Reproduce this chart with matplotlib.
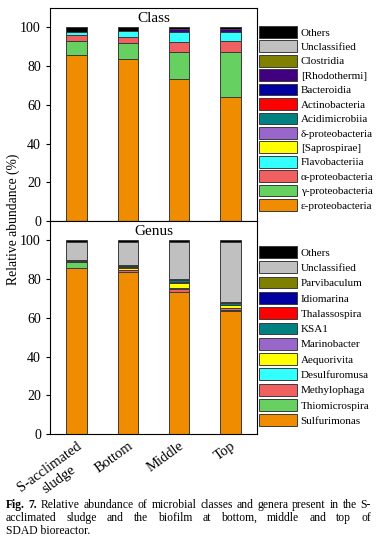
import numpy as np
import matplotlib
matplotlib.use('Agg')
from matplotlib import pyplot as plt
from matplotlib.patches import Patch

plt.rcParams['font.family'] = ['Liberation Serif', 'DejaVu Serif']

samples = ['S-acclimated\nsludge', 'Bottom', 'Middle', 'Top']

# class level (%), bottom to top of stack
class_names = ['ε-proteobacteria', 'γ-proteobacteria', 'α-proteobacteria', 'Flavobacteriia',
               '[Saprospirae]', 'δ-proteobacteria', 'Acidimicrobiia', 'Actinobacteria',
               'Bacteroidia', '[Rhodothermi]', 'Clostridia', 'Unclassified', 'Others']
eps_prot = [85.5, 83.6, 73.2, 63.8]
gam_prot = [7.7, 8.2, 14.0, 23.5]
alp_prot = [2.9, 3.1, 5.0, 5.8]
flavo = [1.3, 3.3, 5.3, 4.5]
sapro = [0.2, 0.0, 0.0, 0.0]
del_prot = [0.1, 0.1, 0.0, 0.0]
acidi = [0.1, 0.0, 0.0, 0.0]
actino = [0.0, 0.0, 0.0, 0.0]
bactero = [0.0, 0.0, 0.0, 0.0]
rhodo = [0.0, 0.0, 1.5, 1.5]
clostr = [0.0, 0.0, 0.0, 0.0]
cls_uncl = [0.0, 0.0, 0.0, 0.0]
cls_other = [2.2, 1.7, 1.0, 0.9]
class_vals = [eps_prot, gam_prot, alp_prot, flavo, sapro, del_prot, acidi, actino,
              bactero, rhodo, clostr, cls_uncl, cls_other]

# genus level (%)
genus_names = ['Sulfurimonas', 'Thiomicrospira', 'Methylophaga', 'Desulfuromusa', 'Aequorivita',
               'Marinobacter', 'KSA1', 'Thalassospira', 'Idiomarina', 'Parvibaculum',
               'Unclassified', 'Others']
sulfu = [85.5, 83.5, 73.2, 63.7]
thiomi = [3.2, 0.2, 0.3, 0.4]
methylo = [0.2, 0.8, 1.3, 0.8]
desulf = [0.0, 0.0, 0.5, 0.2]
aequo = [0.0, 1.4, 2.8, 1.3]
marino = [0.1, 0.2, 0.3, 0.2]
ksa1 = [0.3, 0.6, 1.0, 1.2]
thalas = [0.0, 0.0, 0.1, 0.0]
idiom = [0.3, 0.4, 0.4, 0.3]
parvi = [0.1, 0.1, 0.1, 0.0]
gen_uncl = [9.6, 11.8, 18.9, 31.0]
gen_other = [0.7, 1.0, 1.1, 0.9]
genus_vals = [sulfu, thiomi, methylo, desulf, aequo, marino, ksa1, thalas, idiom, parvi,
              gen_uncl, gen_other]

colors = ['#F08C00', '#66D060', '#F06060', '#33FFFF', '#FFFF00', '#9966CC', '#008080',
          '#FF0000', '#0000A0', '#400080', '#808000', '#C0C0C0', '#000000']
genus_colors = ['#F08C00', '#66D060', '#F06060', '#33FFFF', '#FFFF00', '#9966CC', '#008080',
                '#FF0000', '#0000A0', '#808000', '#C0C0C0', '#000000']

fig = plt.figure(figsize=(3.76, 5.40), dpi=100)
W, H = 376.0, 540.0
ax1 = fig.add_axes([50 / W, 1 - 221 / H, 207 / W, 213 / H])
ax2 = fig.add_axes([50 / W, 1 - 434 / H, 207 / W, 213 / H])

x = np.arange(len(samples))


def stack(ax, vals, cols, names, title, leg_y, spacing):
    bottom = np.zeros(len(samples))
    for v, c in zip(vals, cols):
        ax.bar(x, v, 0.4, bottom=bottom, color=c, edgecolor='#3a3a3a', linewidth=0.7)
        bottom += np.array(v)
    ax.set_ylim(0, 110)
    ax.set_xlim(-0.52, 3.52)
    ax.set_yticks([0, 20, 40, 60, 80, 100])
    ax.tick_params(axis='y', direction='out', length=3, labelsize=10, width=0.8)
    ax.text(0.5, 0.98, title, transform=ax.transAxes, ha='center', va='top', fontsize=11)
    for s in ax.spines.values():
        s.set_linewidth(0.8)
    handles = [Patch(facecolor=c, edgecolor='#3a3a3a', linewidth=0.7, label=n)
               for c, n in zip(cols, names)][::-1]
    fig.legend(handles=handles, loc='upper left', bbox_to_anchor=(259 / W, 1 - leg_y / H),
               frameon=False, fontsize=8.0, handlelength=3.4, handleheight=1.25,
               handletextpad=0.35, labelspacing=spacing, borderaxespad=0, borderpad=0)


stack(ax1, class_vals, colors, class_names, 'Class', 26, 0.24)
stack(ax2, genus_vals, genus_colors, genus_names, 'Genus', 246, 0.32)

ax1.set_xticks([])
ax2.set_xticks(x)
ax2.set_xticklabels(samples, rotation=36, ha='right', rotation_mode='anchor',
                    fontsize=10.5, multialignment='center')
ax2.tick_params(axis='x', length=0, pad=4)
fig.text(13 / W, 1 - 219 / H, 'Relative abundance (%)', rotation=90, ha='center',
         va='center', fontsize=9.8)

# caption, first two lines justified between x0 and x1
renderer = fig.canvas.get_renderer()


def justified(words, x0, x1, y, size, bold_first=False):
    objs = []
    for i, w in enumerate(words):
        weight = 'bold' if (bold_first and i < 2) else 'normal'
        objs.append(fig.text(0, 1 - y / H, w, fontsize=size, fontweight=weight, va='center'))
    widths = [t.get_window_extent(renderer).width for t in objs]
    gap = (x1 - x0 - sum(widths)) / (len(words) - 1)
    pos = x0
    for t, w in zip(objs, widths):
        t.set_x(pos / W)
        pos += w + gap


justified('Fig. 7. Relative abundance of microbial classes and genera present in the S-'.split(),
          6, 371, 505, 8.4, bold_first=True)
justified('acclimated sludge and the biofilm at bottom, middle and top of'.split(),
          6, 371, 518, 8.4)
fig.text(6 / W, 1 - 531 / H, 'SDAD bioreactor.', fontsize=8.4, va='center')

fig.savefig('out.png', dpi=100)
